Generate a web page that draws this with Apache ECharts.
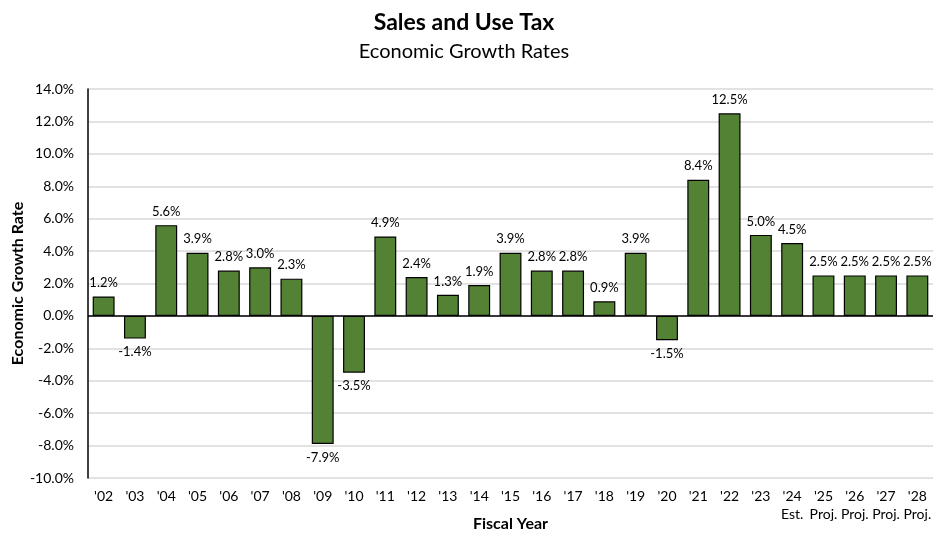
<!DOCTYPE html>
<html>
<head>
<meta charset="utf-8">
<script src="https://cdn.jsdelivr.net/npm/echarts@6/dist/echarts.min.js"></script>
<style>
  html, body { margin: 0; padding: 0; background: #ffffff; }
  #chart { width: 939px; height: 533px; }
</style>
</head>
<body>
<div id="chart"></div>
<script>
// Fiscal years and their status notes (estimate / projection)
const years = ["'02","'03","'04","'05","'06","'07","'08","'09","'10","'11","'12","'13","'14","'15","'16","'17","'18","'19","'20","'21","'22","'23","'24","'25","'26","'27","'28"];
const notes = ["","","","","","","","","","","","","","","","","","","","","","","Est.","Proj.","Proj.","Proj.","Proj."];
// Economic growth rates, percent
const growthRates = [1.2,-1.4,5.6,3.9,2.8,3.0,2.3,-7.9,-3.5,4.9,2.4,1.3,1.9,3.9,2.8,2.8,0.9,3.9,-1.5,8.4,12.5,5.0,4.5,2.5,2.5,2.5,2.5];
// Value axis ticks
const yMin = -10, yMax = 14, yStep = 2;

const FONT = 'Lato, "Open Sans", sans-serif';
const categories = years.map((y, i) => notes[i] ? y + '\n' + notes[i] : y);

const chart = echarts.init(document.getElementById('chart'));
chart.setOption({
  animation: false,
  textStyle: { fontFamily: FONT, color: '#000' },
  title: {
    text: 'Sales and Use Tax',
    subtext: 'Economic Growth Rates',
    left: 459, textAlign: 'center', top: 6, itemGap: 8,
    textStyle: { fontFamily: FONT, fontSize: 23, fontWeight: 'bold', color: '#000' },
    subtextStyle: { fontFamily: FONT, fontSize: 20, color: '#000' }
  },
  grid: { left: 88, right: 6, top: 89, bottom: 55, containLabel: false, outerBoundsMode: 'none' },
  xAxis: {
    type: 'category',
    data: categories,
    name: 'Fiscal Year',
    nameLocation: 'middle',
    nameGap: 38,
    nameMoveOverlap: false,
    nameTextStyle: { fontFamily: FONT, fontSize: 16, fontWeight: 'bold', color: '#000' },
    axisLine: { show: false, onZero: false },
    axisTick: { show: false },
    axisLabel: {
      interval: 0, fontSize: 14, color: '#000', margin: 15, lineHeight: 18,
      verticalAlign: 'top', padding: [-6, 0, 0, 0]
    }
  },
  yAxis: {
    type: 'value',
    min: yMin, max: yMax, interval: yStep,
    name: 'Economic Growth Rate',
    nameLocation: 'middle',
    nameGap: 62,
    nameMoveOverlap: false,
    nameTextStyle: { fontFamily: FONT, fontSize: 16, fontWeight: 'bold', color: '#000' },
    axisLine: { show: true, lineStyle: { color: '#000', width: 1.5 } },
    axisTick: { show: false },
    axisLabel: { fontSize: 14, color: '#000', margin: 14, formatter: v => v.toFixed(1) + '%' },
    splitLine: { lineStyle: { color: '#d9d9d9', width: 1.5 } }
  },
  series: [{
    type: 'bar',
    data: growthRates,
    barCategoryGap: '30%',
    itemStyle: { color: '#548235', borderColor: '#000', borderWidth: 1.2 },
    label: {
      show: true,
      fontFamily: FONT, fontSize: 13, color: '#000', distance: 7,
      formatter: p => p.value.toFixed(1) + '%',
      position: 'top'
    },
    markLine: {
      silent: true, symbol: 'none', label: { show: false },
      lineStyle: { color: '#000', type: 'solid', width: 1.5 },
      data: [{ yAxis: 0 }]
    }
  }]
});
// negative bars carry their labels beneath
chart.setOption({
  series: [{
    data: growthRates.map(v => v < 0 ? { value: v, label: { position: 'bottom' } } : v)
  }]
});
</script>
</body>
</html>
